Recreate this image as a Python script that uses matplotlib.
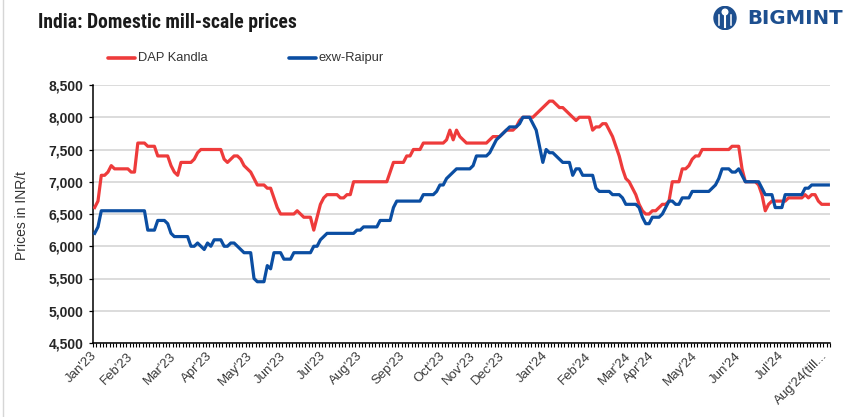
import matplotlib
matplotlib.use("Agg")
import matplotlib.pyplot as plt
import numpy as np
from matplotlib import font_manager
from matplotlib.lines import Line2D
from matplotlib.patches import Ellipse, Circle
from matplotlib.ticker import FixedLocator, FuncFormatter

# DAP Kandla and exw-Raipur mill-scale prices (INR/t), one value per reported day
dapKandla = [
    6600, 6700, 7100, 7100, 7150, 7250, 7200, 7200, 7200, 7200,
    7200, 7150, 7150, 7600, 7600, 7600, 7550, 7550, 7550, 7400,
    7400, 7400, 7400, 7250, 7150, 7100, 7300, 7300, 7300, 7300,
    7350, 7450, 7500, 7500, 7500, 7500, 7500, 7500, 7500, 7350,
    7300, 7350, 7400, 7400, 7350, 7250, 7200, 7150, 7050, 6950,
    6950, 6950, 6900, 6900, 6750, 6600, 6500, 6500, 6500, 6500,
    6500, 6550, 6500, 6450, 6450, 6450, 6250, 6450, 6650, 6750,
    6800, 6800, 6800, 6800, 6750, 6750, 6800, 6800, 7000, 7000,
    7000, 7000, 7000, 7000, 7000, 7000, 7000, 7000, 7000, 7150,
    7300, 7300, 7300, 7300, 7400, 7400, 7500, 7500, 7500, 7600,
    7600, 7600, 7600, 7600, 7600, 7600, 7650, 7800, 7650, 7800,
    7700, 7650, 7600, 7600, 7600, 7600, 7600, 7600, 7600, 7650,
    7700, 7700, 7700, 7750, 7800, 7800, 7800, 7850, 7950, 8000,
    8000, 8000, 8000, 8050, 8100, 8150, 8200, 8250, 8250, 8200,
    8150, 8150, 8100, 8050, 8000, 7950, 8000, 8000, 8000, 8000,
    7800, 7850, 7850, 7900, 7900, 7800, 7700, 7550, 7400, 7200,
    7050, 7000, 6900, 6800, 6650, 6550, 6500, 6500, 6550, 6550,
    6600, 6650, 6650, 6700, 7000, 7000, 7000, 7200, 7200, 7250,
    7350, 7400, 7400, 7500, 7500, 7500, 7500, 7500, 7500, 7500,
    7500, 7500, 7550, 7550, 7550, 7200, 7000, 7000, 7000, 7000,
    6950, 6800, 6550, 6650, 6700, 6700, 6700, 6700, 6700, 6750,
    6750, 6750, 6750, 6750, 6800, 6750, 6800, 6800, 6700, 6650,
    6650, 6650,
]

exwRaipur = [
    6200, 6300, 6550, 6550, 6550, 6550, 6550, 6550, 6550, 6550,
    6550, 6550, 6550, 6550, 6550, 6550, 6250, 6250, 6250, 6400,
    6400, 6400, 6350, 6200, 6150, 6150, 6150, 6150, 6150, 6000,
    6000, 6050, 6000, 5950, 6050, 6000, 6100, 6100, 6100, 6000,
    6000, 6050, 6050, 6000, 5950, 5900, 5900, 5900, 5500, 5450,
    5450, 5450, 5700, 5650, 5900, 5900, 5900, 5800, 5800, 5800,
    5900, 5900, 5900, 5900, 5900, 5900, 6000, 6000, 6100, 6150,
    6200, 6200, 6200, 6200, 6200, 6200, 6200, 6200, 6200, 6250,
    6250, 6300, 6300, 6300, 6300, 6300, 6400, 6400, 6400, 6400,
    6600, 6700, 6700, 6700, 6700, 6700, 6700, 6700, 6700, 6800,
    6800, 6800, 6800, 6850, 6950, 6950, 7050, 7100, 7150, 7200,
    7200, 7200, 7200, 7200, 7250, 7400, 7400, 7400, 7400, 7450,
    7550, 7650, 7700, 7750, 7800, 7850, 7850, 7850, 7900, 8000,
    8000, 8000, 7900, 7800, 7550, 7300, 7500, 7450, 7450, 7400,
    7350, 7300, 7300, 7300, 7100, 7200, 7200, 7100, 7100, 7100,
    7100, 6900, 6850, 6850, 6850, 6850, 6800, 6800, 6800, 6750,
    6650, 6650, 6650, 6650, 6600, 6450, 6350, 6350, 6450, 6450,
    6450, 6500, 6600, 6700, 6700, 6650, 6650, 6750, 6750, 6750,
    6850, 6850, 6850, 6850, 6850, 6850, 6900, 6950, 7050, 7200,
    7200, 7200, 7150, 7150, 7200, 7100, 7000, 7000, 7000, 7000,
    7000, 6900, 6800, 6800, 6800, 6600, 6600, 6600, 6800, 6800,
    6800, 6800, 6800, 6800, 6900, 6900, 6950, 6950, 6950, 6950,
    6950, 6950,
]

# first category of each month, and its label
monthLabels = ["Jan'23", "Feb'23", "Mar'23", "Apr'23", "May'23", "Jun'23", "Jul'23",
               "Aug'23", "Sep'23", "Oct'23", "Nov'23", "Dec'23", "Jan'24", "Feb'24",
               "Mar'24", "Apr'24", "May'24", "Jun'24", "Jul'24", "Aug'24(till..."]
monthStart = [0, 11, 24, 35, 47, 57, 69, 80, 93, 105, 114, 123, 136, 149, 161, 168,
              181, 194, 207, 220]

yTicks = [4500, 5000, 5500, 6000, 6500, 7000, 7500, 8000, 8500]

RED = "#EE3B3B"
BLUE = "#0B4EA2"
W, H = 846, 417


def pickFont(names):
    for n in names:
        try:
            font_manager.findfont(font_manager.FontProperties(family=n), fallback_to_default=False)
            return n
        except Exception:
            continue
    return "DejaVu Sans"


def fx(px):
    return px / W


def fy(py):
    return 1 - py / H


def fitWidth(fig, txt, target):
    # shrink / grow a text so it spans target pixels
    r = fig.canvas.get_renderer()
    w = txt.get_window_extent(renderer=r).width
    if w > 0:
        txt.set_fontsize(txt.get_fontsize() * target / w)


def main():
    sans = pickFont(["Liberation Sans", "Arial", "DejaVu Sans"])
    narrow = pickFont(["Liberation Sans Narrow", "Roboto Condensed", "Open Sans", "DejaVu Sans"])

    fig = plt.figure(figsize=(W / 100, H / 100), dpi=100)
    fig.patch.set_facecolor("white")

    left, right, top, bottom = 93, 830, 85, 343
    ax = fig.add_axes([fx(left), fy(bottom), fx(right - left), (bottom - top) / H])

    xs = np.arange(len(dapKandla))
    ax.plot(xs, dapKandla, color=RED, lw=2.3, solid_joinstyle="round", zorder=3)
    ax.plot(xs, exwRaipur, color=BLUE, lw=2.3, solid_joinstyle="round", zorder=4)

    ax.set_xlim(-0.5, len(xs) - 0.5)
    ax.set_ylim(yTicks[0], yTicks[-1])
    ax.set_yticks(yTicks)
    ax.yaxis.set_major_formatter(FuncFormatter(lambda v, p: f"{int(v):,}"))
    ax.grid(axis="y", color="#d9d9d9", lw=1.3)
    ax.set_axisbelow(True)

    for s in ["top", "right"]:
        ax.spines[s].set_visible(False)
    for s in ["left", "bottom"]:
        ax.spines[s].set_color("black")
        ax.spines[s].set_linewidth(1.1)

    ax.set_xticks(monthStart)
    ax.set_xticklabels(monthLabels, rotation=45, ha="right", va="center",
                       rotation_mode="anchor", fontfamily=sans, fontsize=9.5, color="#3a3a3a")
    ax.xaxis.set_minor_locator(FixedLocator(np.arange(-0.5, len(xs), 1.0)))
    ax.tick_params(axis="x", which="major", length=0, pad=8)
    ax.tick_params(axis="x", which="minor", length=3, width=0.8, color="black", direction="out")
    ax.tick_params(axis="y", which="major", length=3, width=0.9, color="black", pad=4)
    for t in ax.get_yticklabels():
        t.set_fontfamily(sans)
        t.set_fontweight("bold")
        t.set_fontsize(10)
        t.set_color("#262626")

    fig.text(fx(22), fy(216), "Prices in INR/t", rotation=90, ha="center", va="center",
             fontfamily=sans, fontsize=10, color="#333333")

    title = fig.text(fx(38), fy(23), "India: Domestic mill-scale prices", ha="left", va="center",
                     fontfamily=narrow, fontweight="bold", fontsize=14, color="#1a1a1a")
    fitWidth(fig, title, 259)

    # legend
    legY = fy(58)
    fig.add_artist(Line2D([fx(108), fx(135)], [legY, legY], color=RED, lw=2.6, solid_capstyle="round"))
    fig.text(fx(138), legY, "DAP Kandla", ha="left", va="center", fontfamily=sans,
             fontsize=9.3, color="#333333")
    fig.add_artist(Line2D([fx(289), fx(316)], [legY, legY], color=BLUE, lw=2.6, solid_capstyle="round"))
    fig.text(fx(318), legY, "exw-Raipur", ha="left", va="center", fontfamily=sans,
             fontsize=9.3, color="#333333")

    # BIGMINT logo (rough)
    navy = "#1d4f8f"
    logoAx = fig.add_axes([fx(712), fy(30), fx(26), 24 / H])
    logoAx.set_xlim(0, 26)
    logoAx.set_ylim(0, 24)
    logoAx.axis("off")
    logoAx.add_patch(Ellipse((13, 12), 22, 23, color=navy))
    logoAx.add_patch(Circle((13, 18), 2.8, color="white"))
    logoAx.plot([13, 13], [3, 14.5], color="white", lw=1.5)
    logoAx.plot([7, 7], [5, 15], color="white", lw=1.1)
    logoAx.plot([19, 19], [5, 15], color="white", lw=1.1)
    brand = fig.text(fx(747), fy(18), "BIGMINT", ha="left", va="center",
                     fontfamily="DejaVu Sans", fontweight="bold", fontsize=13, color=navy)
    fitWidth(fig, brand, 95)

    # thin frame edge on the left like the source image
    fig.add_artist(Line2D([fx(3), fx(3)], [0, 1], color="#d6d6d6", lw=1))

    fig.savefig("out.png", dpi=100)


if __name__ == "__main__":
    main()
